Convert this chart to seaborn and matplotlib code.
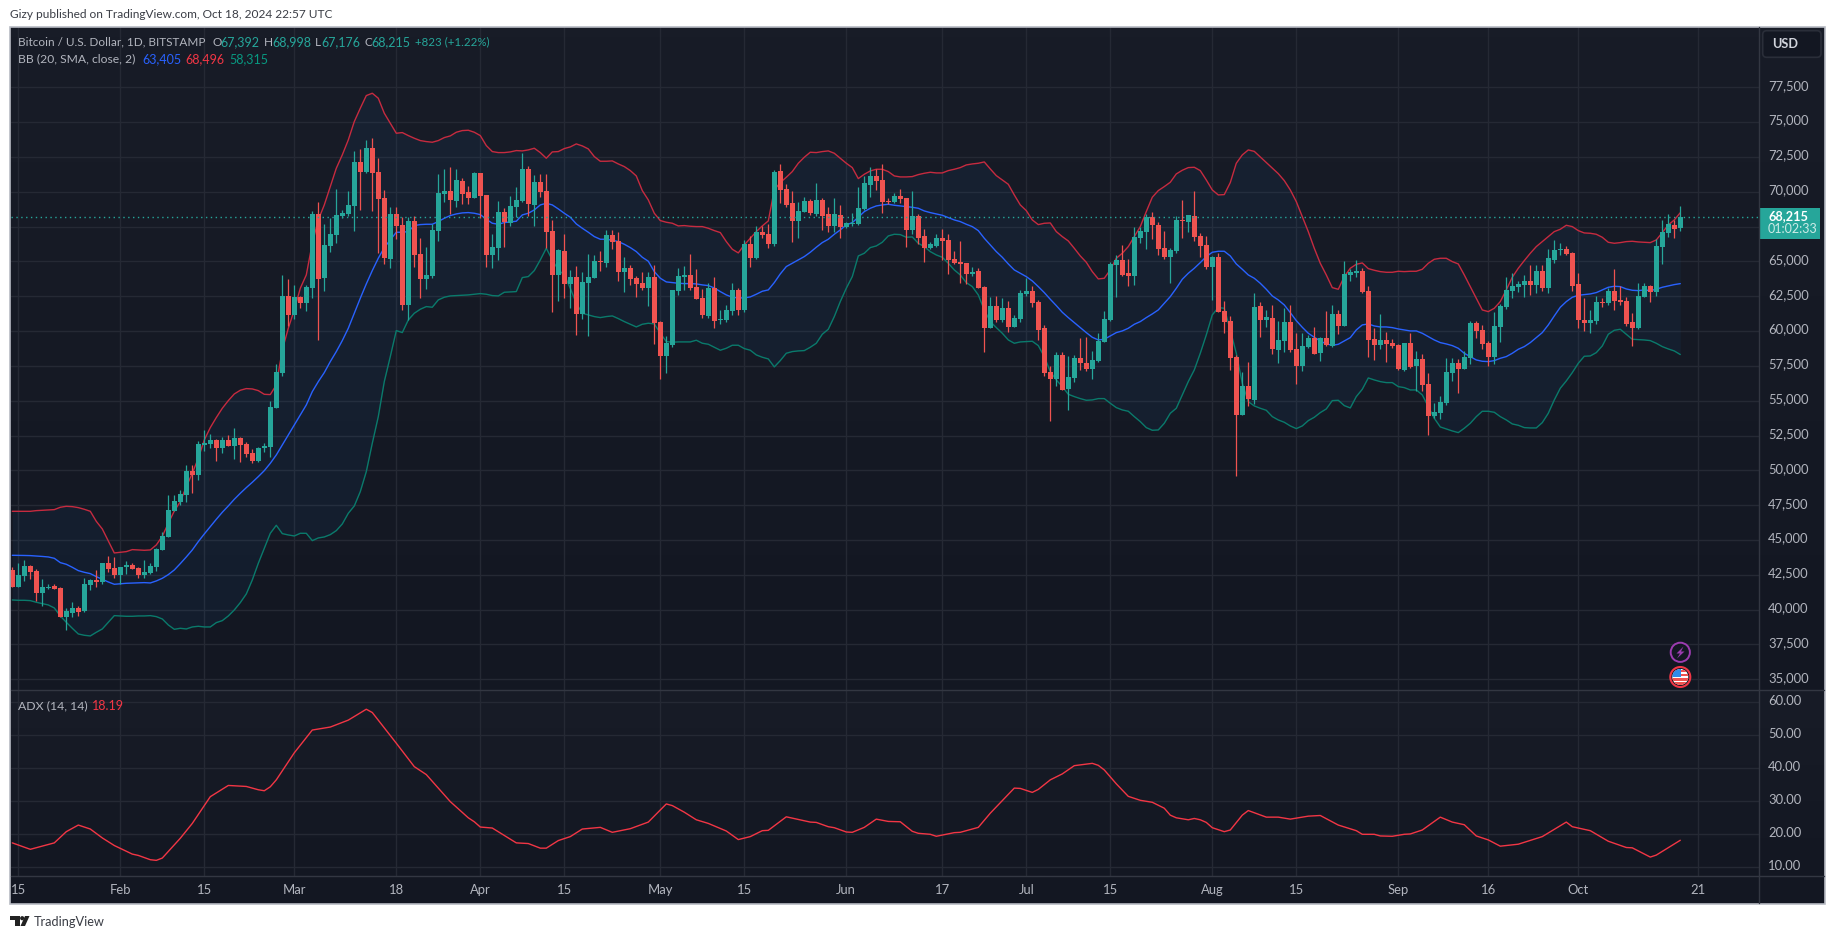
import numpy as np
import pandas as pd
import matplotlib
matplotlib.use("Agg")
import matplotlib.pyplot as plt
import matplotlib.dates as mdates
from matplotlib.patches import Rectangle, Circle, Polygon, FancyBboxPatch
from matplotlib.transforms import ScaledTranslation
import seaborn as sns

W, H = 1835, 939
FONT = "Lato"

start_date = "2024-01-14"

opens = [42850,41630,42420,43140,42780,41220,41590,41700,41560,39480,
39760,40120,39905,41770,42130,41990,43350,42990,42490,43065,
43210,42990,42490,42635,43065,44285,45220,47085,47730,48235,
49957,49670,51825,51895,52180,51610,52180,51750,52325,51895,
51250,50675,51610,51680,54480,56995,62525,61160,62450,62020,
63100,68410,63815,66115,66900,68265,68410,68985,72145,71425,
73150,71425,69560,65180,68410,67620,61880,67910,65540,63745,
63960,67190,69850,70060,69345,70780,69990,69560,71355,69775,
65465,65970,68555,67765,68915,69345,71640,69055,70705,70060,
67190,64030,65755,63385,63890,61230,63460,63815,65035,64890,
66905,66470,64245,64535,63815,63455,63100,63885,60655,58215,
59005,62885,63885,64030,63170,62380,61085,63100,60800,60800,
61445,62955,61520,66255,65250,67120,66975,66255,71495,70205,
69200,67910,68555,69345,68410,69415,68410,67550,68340,67475,
67690,67690,68770,70490,71137,70850,69342,69270,69700,69557,
67260,68265,66830,65968,66112,66686,66542,65178,64963,64891,
64101,64317,63168,60224,61804,60799,61660,60296,60870,62665,
62880,62091,60224,57066,56563,58286,55845,56635,58071,57712,
57281,57855,59219,60799,64747,65106,64173,63958,66686,67116,
68193,67619,65968,65322,65752,67978,67834,68265,66829,66183,
64603,65322,61445,60727,58143,53979,56060,55055,61803,60798,
60942,58644,59291,60654,58716,57496,58860,59506,58429,59506,
58932,61229,60367,64029,64172,64316,62880,59434,59003,59362,
59147,59003,57209,59147,57496,57999,56204,53906,54122,54840,
56993,57711,57280,58070,60583,60081,59147,58142,60296,61731,
62880,63167,63311,63598,63311,64316,63095,65105,65847,65895,
65608,63383,60798,60583,60726,62091,62019,62880,62234,62162,
60654,60224,62450,63239,62808,66039,67044,67618,67392]

closes = [41630,42490,43140,42730,41220,41630,41650,41510,39480,39905,
40120,39835,41845,42130,41990,43350,42920,42490,43065,43210,
42920,42490,42705,43140,44355,45290,47157,47800,48305,49957,
49670,51895,51970,52180,51610,52180,51750,52325,51825,51180,
50675,51610,51750,54550,57070,62525,61160,62450,62020,63170,
68410,63745,66185,66975,68340,68480,69055,72145,71425,73150,
71350,69490,65250,68410,67550,61880,67910,65465,63745,64030,
67260,69920,70060,69415,70850,69845,69560,71355,69700,65465,
66040,68555,67835,68985,69415,71640,69130,70705,69990,67120,
64030,65825,63385,63890,61230,63530,63890,65035,64965,66905,
66400,64245,64535,63745,63385,63100,63885,60585,58215,59150,
62955,63960,64030,63100,62310,61160,63100,60730,60870,61520,
62955,61520,66255,65250,67120,66905,66255,71425,70135,69055,
67910,68625,69345,68485,69415,68265,67550,68410,67475,67765,
67762,68840,70634,71137,70778,69270,69270,69700,69485,67260,
68265,66686,65968,66255,66686,66470,65106,64891,64819,64101,
64245,63096,60224,61804,60799,61660,60296,60942,62737,62880,
62019,60081,56994,56563,58286,55773,56707,58071,57712,57281,
57927,59291,60870,64819,65106,64029,63958,66757,67188,68193,
67619,65896,65322,65824,67978,67906,68337,66757,66111,64603,
65322,61373,60655,58071,53979,56060,55127,61731,60798,61014,
58716,59362,60654,58644,57496,58932,59506,58357,59506,59003,
61229,60367,64100,64244,64316,62808,59362,59003,59362,59075,
58932,57280,59147,57424,57999,56132,53906,54194,54911,57065,
57711,57280,58142,60583,60009,59075,58142,60367,61803,62952,
63239,63382,63598,63311,64316,63095,65249,65823,65895,65536,
63239,60798,60583,60798,62091,61995,62880,62162,62090,60511,
60224,62521,63239,62808,66111,67116,67690,67331,68215]

highs = [43040,43350,43570,43190,42920,42180,41840,41840,41610,40100,
40550,40265,42250,42200,42850,43350,43855,43780,43065,43470,
43350,43040,43570,43350,44430,45580,48235,48235,48590,50390,
50390,52110,52900,52610,52230,52400,52540,53045,52400,52040,
51535,51680,51965,54980,57640,64030,63745,63310,62525,63310,
68625,69270,67690,68120,70205,68700,70060,72930,73075,73720,
73865,72430,70135,68910,68910,68195,68195,68265,66690,66040,
67690,71280,71640,71785,71640,70995,70420,71425,71355,69775,
66975,69345,68840,69700,70350,72790,71855,71210,71280,71280,
67980,65900,66975,64390,64675,64245,65540,65465,65755,67260,
67260,67120,65320,64750,63960,64245,64245,64750,60730,59650,
62955,64535,64675,65540,64460,63025,63455,63885,61520,61880,
63455,63100,66545,66830,67550,67550,67690,71570,72000,70560,
70060,69270,69630,69490,70635,69560,68910,69560,69055,67835,
68480,70350,71137,71783,71640,72000,69557,69916,70203,69557,
70060,68409,67332,66398,66973,67332,66973,65752,66470,64891,
64603,64532,63240,62450,62522,62378,62163,61158,62952,63814,
63240,62235,60440,57496,58501,58501,58214,58286,59507,59578,
58574,59865,61445,64963,65465,66183,65178,67476,67476,68409,
68552,67834,67188,65968,68265,69414,68337,70060,67044,66829,
65394,65609,62163,61086,58286,57066,57783,62736,62090,61516,
61875,60726,61660,61875,59865,59841,59721,60296,59578,61444,
61875,61516,65034,64459,65106,64531,63239,60224,61229,59937,
59410,59075,59147,59865,58573,58357,57000,54840,55342,58070,
58070,57998,58573,60726,60726,60440,59291,61373,61947,63885,
64172,63598,64029,64747,64747,64747,65895,66541,66326,66110,
65680,64172,62378,61516,62521,62378,63095,64459,63239,62450,
61301,63455,63455,63311,66637,67977,68408,67977,68998]

lows = [41630,41630,42085,42200,40625,40265,41460,41460,39450,38540,
39480,39550,39860,41415,41630,41845,42730,42275,41845,42560,
42920,42275,42275,42560,42780,44285,45220,47085,47515,47730,
48380,49310,51390,51610,50675,51250,51750,50820,50600,50960,
50530,50600,51320,50960,54480,56780,60370,60870,61660,61445,
62380,59365,62880,65680,66330,68120,68265,67190,68700,71350,
68625,65610,64820,64535,66615,61520,60800,64605,62380,63025,
63815,66470,69270,68410,68910,69130,69130,69560,68120,64605,
64535,65105,66040,67550,68195,69270,68265,67550,69630,65945,
61375,62165,62355,61640,59725,60870,59650,63815,64320,64605,
65895,63600,62810,63315,62450,62955,61805,59085,56565,56995,
58860,62595,62955,62955,62310,60945,60945,60225,60515,60655,
61160,61160,61375,64605,65180,66690,65970,66115,69200,68915,
66400,66690,68555,68340,68265,67260,67120,67120,66690,67405,
67545,67620,68670,69629,70132,68480,69127,69200,69200,66040,
66973,66255,64963,65896,66040,65106,64101,64819,63455,63383,
63958,63096,58502,60224,60655,60655,59937,60296,60655,62522,
61732,59363,56779,53548,56060,55773,54338,56348,57209,57137,
56563,57783,59219,60727,62450,63958,63240,63312,66327,65896,
66614,65465,65178,63455,65609,66686,67116,66470,65321,64460,
62234,61373,59865,57209,49600,53979,54624,54768,59578,60296,
58357,57711,58501,58501,56203,57137,58788,58357,57855,58932,
58860,59793,60367,63598,63885,62736,58142,57926,58716,57783,
58788,57233,57137,57352,55701,55701,52542,53763,53691,54696,
56419,55557,57280,57639,59506,58717,57496,57639,59219,61588,
62378,62808,62450,62593,62737,62880,62737,64890,65465,65465,
62880,60224,60009,59865,60511,61731,61875,61516,61875,60367,
58932,60152,62450,62091,62521,64819,66757,66685,67176]

bb_upper = [47060,47060,47060,47060,47109,47133,47157,47181,47349,47420,
47396,47325,47205,47061,46340,45793,44932,44070,44118,44166,
44310,44286,44262,44286,44645,45270,46200,47085,47755,48830,
49790,50870,52180,53070,53790,54455,55005,55485,55750,55870,
55845,55725,55460,55440,56130,58646,60200,61519,63073,64030,
66304,67980,69056,70372,71688,72646,73722,75039,75996,76905,
77073,76714,75637,74919,74201,74249,74034,73842,73675,73603,
73555,73675,73890,74010,74273,74393,74417,74273,74034,73316,
72885,72813,72813,72861,72957,72933,73005,73124,72813,72406,
72861,72885,73100,73220,73435,73292,73076,72526,72191,72191,
72215,71999,71808,71521,71138,70085,69415,68458,67931,67812,
67740,67548,67572,67525,67500,67500,67381,67213,67070,66424,
65873,65610,66184,66663,67141,67548,67907,70133,70659,71042,
71449,72047,72478,72837,72813,72885,72933,72765,72406,72047,
71735,70945,71256,71496,71615,71615,71448,71137,71065,71065,
71089,71232,71328,71400,71352,71352,71519,71615,71735,71926,
71998,72046,72142,71639,71160,70849,70538,69772,69055,68648,
67978,67643,67738,67762,67140,66781,66470,65943,65393,64939,
64269,63742,63790,64388,65226,65585,66063,66781,67499,68576,
69605,70084,70371,70682,71280,71543,71735,71759,71519,70849,
70132,69772,69796,70658,72046,72644,73003,72900,72500,72100,
71700,71300,70800,70131,69293,68217,67140,65943,64866,64029,
63119,62999,63909,64507,64794,64890,64483,64364,64268,64220,
64220,64292,64268,64292,64292,64436,64866,65153,65225,65225,
64986,64818,64029,63191,62353,61516,61396,61636,62115,62952,
63861,64507,65058,65584,66063,66422,66781,67140,67307,67594,
67499,67211,67044,67020,66948,66733,66374,66302,66350,66422,
66446,66398,66374,66350,66541,67068,67618,67977,68496]

bb_mid = [43903,43900,43890,43879,43850,43820,43783,43687,43376,43256,
43041,42802,42682,42587,42371,42180,41988,41821,41860,41893,
41910,41930,41940,41916,42060,42251,42515,42850,43305,43783,
44286,44884,45434,45961,46487,46990,47445,47923,48354,48760,
49143,49550,49981,50507,51106,51824,52542,53259,53977,54695,
55653,56370,57020,57808,58527,59316,60201,61279,62356,63385,
64342,65227,65993,66543,67094,67094,67142,67572,67644,67668,
67668,67860,68099,68290,68410,68482,68506,68458,68362,68027,
67740,67668,67788,67836,67884,68338,68458,68697,69056,69176,
69056,68769,68458,68171,67692,67381,67094,66783,66591,66591,
66520,66424,66232,65993,65706,65299,65012,64270,63792,63528,
63480,63432,63408,63408,63385,63313,63265,63097,62834,62595,
62427,62380,62380,62451,62643,62858,62954,63480,64102,64629,
64868,65108,65347,65658,66017,66352,66591,66950,67261,67620,
67786,68169,68576,68815,68983,69055,69103,69031,68983,68935,
68887,68815,68624,68504,68409,68313,68145,67978,67858,67667,
67499,67212,66662,66183,65704,65298,64819,64388,64149,63910,
63598,63192,62761,62282,61828,61349,60966,60607,60248,59889,
59554,59363,59411,59650,59889,60009,60200,60487,60679,60966,
61229,61517,61995,62474,63072,63718,64149,64508,64915,65345,
65657,65729,65729,65393,64818,64436,64029,63790,63430,63000,
62521,62234,61875,61325,60750,60272,59841,59554,59291,59075,
58979,59051,59291,59530,60080,60440,60511,60367,60296,60296,
60248,60152,60080,60009,60009,59841,59602,59362,59171,59075,
58956,58764,58405,58166,57926,57831,57807,57879,58046,58166,
58405,58692,58884,59171,59530,59889,60440,61085,61708,62114,
62426,62569,62617,62665,62761,62952,63143,63215,63191,63024,
62928,62904,62952,62904,63000,63143,63239,63335,63405]

bb_lower = [40696,40672,40672,40648,40529,40433,40337,40122,39548,39093,
38662,38255,38160,38112,38375,38614,39093,39571,39548,39524,
39524,39548,39548,39571,39500,39332,38901,38590,38662,38614,
38758,38806,38758,38758,39069,39212,39548,39978,40505,41127,
42132,43326,44405,45482,46056,45458,45362,45291,45482,45482,
44956,45147,45219,45386,45674,46152,46918,47444,48473,49909,
51944,53858,56373,58168,60034,59890,60800,61279,61566,61757,
61710,62236,62428,62523,62547,62571,62595,62643,62690,62643,
62547,62523,62786,62810,62834,63839,63911,64342,65108,65945,
65108,64390,64031,63073,61996,61279,61159,61039,60967,61039,
61087,60896,60680,60489,60297,60489,60561,60513,59843,59245,
59197,59221,59221,59221,59341,59125,59053,58838,58623,58766,
58982,58982,58742,58623,58287,58120,58000,57425,57881,58407,
58527,58575,58598,58838,59125,59771,60130,61039,62117,63073,
63910,65393,65585,65992,66111,66375,66829,66949,66925,66733,
66757,66302,66063,65704,65465,65297,64867,64388,64029,63479,
63192,62594,61517,60679,60248,59842,59363,59124,59220,59244,
59267,58956,58166,57090,56491,56013,55462,55295,55151,55032,
55056,55151,55151,54816,54505,54338,54242,53859,53500,53069,
52878,52902,53380,54098,54457,55414,56372,57209,58406,59722,
61158,61684,61636,60081,58406,56252,54935,54624,54456,54313,
53858,53619,53452,53189,52997,53189,53571,53811,54146,54409,
55007,55031,54648,54481,55295,55821,56634,56491,56371,56299,
56299,56012,55940,55773,55773,55414,54576,53739,53117,52973,
52829,52710,53021,53380,53858,54241,54241,54170,53858,53619,
53332,53236,53069,53045,53045,53428,54098,55055,55893,56419,
57017,57687,58190,58214,58453,58932,59769,60056,60128,59769,
59410,59386,59362,59315,59123,58884,58716,58573,58315]

adx_days = [0,3,7,9,11,13,15,17,20,21,23,24,25,28,30,33,36,39,41,42,43,44,47,50,53,56,59,60,64,67,
69,73,76,77,78,80,84,86,88,89,91,93,95,98,100,103,106,109,110,112,114,116,119,121,123,125,126,129,131,133,
134,136,137,139,140,142,144,146,148,150,151,153,154,157,158,161,163,167,168,170,171,173,175,177,180,181,182,184,186,188,
190,192,193,194,196,197,198,199,200,202,203,205,206,209,211,213,216,218,221,224,225,227,228,230,232,233,235,238,240,242,
244,246,248,251,255,259,260,263,266,269,270,273,274,278]
adx_vals = [17.4,15.45,17.4,20.8,22.8,21.6,18.9,16.6,14.0,13.6,12.3,12.1,12.8,18.8,23.3,31.4,34.8,34.5,33.5,33.2,34.4,36.5,44.7,51.6,52.5,54.6,57.9,56.9,47.6,40.5,
38.1,29.9,25.0,23.8,22.2,21.9,17.4,17.2,15.8,15.8,18.1,19.3,21.6,22.1,20.6,21.7,23.7,29.2,28.7,26.7,24.4,23.3,21.0,18.4,19.3,21.1,21.2,25.3,24.5,23.7,
23.6,22.3,22.0,20.7,20.6,22.1,24.6,23.9,23.8,20.9,20.3,20.0,19.4,20.5,20.6,22.1,26.4,34.0,33.9,32.7,33.6,36.5,38.3,40.8,41.5,40.9,39.5,35.3,31.5,30.3,
29.7,27.9,25.8,25.0,24.4,24.8,24.4,23.6,22.0,20.8,21.3,25.8,27.2,25.2,25.2,24.6,25.5,25.7,22.8,21.1,20.0,20.0,19.5,19.4,20.0,20.1,21.3,25.2,23.7,22.9,
19.5,18.3,16.4,17.0,19.3,23.7,22.3,21.1,17.9,16.0,15.9,13.1,13.7,18.19]

price_ticks = list(range(35000, 80000, 2500))
adx_ticks = [10, 20, 30, 40, 50, 60]
time_ticks = ["2024-01-15","2024-02-01","2024-02-15","2024-03-01","2024-03-18","2024-04-01","2024-04-15",
              "2024-05-01","2024-05-15","2024-06-01","2024-06-17","2024-07-01","2024-07-15","2024-08-01",
              "2024-08-15","2024-09-01","2024-09-16","2024-10-01","2024-10-21"]
time_labels = ["15","Feb","15","Mar","18","Apr","15","May","15","Jun","17","Jul","15","Aug","15","Sep","16","Oct","21"]

UP = "#26A69A"
DOWN = "#EF5350"
TXT = "#B2B5BE"
GRID = "#252934"
SEP = "#333742"
TOPC = np.array([24, 28, 39]) / 255
BOTC = np.array([19, 23, 34]) / 255

dates = pd.date_range(start_date, periods=len(closes), freq="D")
df = pd.DataFrame({"x": mdates.date2num(dates), "open": opens, "high": highs, "low": lows, "close": closes,
                   "upper": bb_upper, "mid": bb_mid, "lower": bb_lower})
adx_df = pd.DataFrame({"x": df["x"].iloc[0] + np.array(adx_days), "adx": adx_vals})
up = df["close"] >= df["open"]
df["color"] = np.where(up, UP, DOWN)

sns.set_style("dark")
plt.rcParams["font.family"] = [FONT, "DejaVu Sans"]

fig = plt.figure(figsize=(W / 100, H / 100), dpi=100, facecolor="white")


def pane(x0, y0, x1, y1, **kw):
    return fig.add_axes([x0 / W, 1 - y1 / H, (x1 - x0) / W, (y1 - y0) / H], **kw)


# pane backgrounds, they run under the price scale too
grad = np.linspace(0, 1, 64)[:, None, None] * (BOTC - TOPC) + TOPC
for y0, y1 in [(27, 690), (690, 876)]:
    bg = pane(10, y0, 1824.5, y1, zorder=0)
    bg.imshow(grad, aspect="auto")
    bg.axis("off")
bg3 = pane(10, 876, 1824.5, 903.5, zorder=0)
bg3.set_facecolor("#131722")
bg3.set_xticks([])
bg3.set_yticks([])
for s in bg3.spines.values():
    s.set_visible(False)

ax = pane(10.5, 27, 1759, 690, zorder=2)
ax2 = pane(10.5, 690, 1759, 876, zorder=2)
x0 = df["x"].iloc[0]
xlim = (x0 - 0.3, x0 + 291.12)
tick_x = mdates.date2num(pd.to_datetime(time_ticks))

for a in (ax, ax2):
    a.patch.set_alpha(0)
    for s in a.spines.values():
        s.set_visible(False)
    a.set_axisbelow(True)
    a.grid(True, color=GRID, lw=1)
    a.yaxis.tick_right()
    a.set_xticks(tick_x)
    a.tick_params(length=0, colors=TXT, labelsize=9.4, pad=6.6)

# bollinger band
ax.fill_between(df["x"], df["upper"], df["lower"], color="#2196F3", alpha=0.055, lw=0, zorder=1)
sns.lineplot(data=df, x="x", y="upper", ax=ax, color="#C62B40", lw=1.0, errorbar=None, zorder=2)
sns.lineplot(data=df, x="x", y="lower", ax=ax, color="#0A7A6B", lw=1.0, errorbar=None, zorder=2)
sns.lineplot(data=df, x="x", y="mid", ax=ax, color="#2962FF", lw=1.0, errorbar=None, zorder=2)

# candles
ax.vlines(df["x"], df["low"], df["high"], colors=df["color"], lw=0.9, zorder=3)
ax.bar(df["x"], (df["close"] - df["open"]).abs().clip(lower=72), bottom=df[["open", "close"]].min(axis=1),
       width=5 / 6, color=df["color"], lw=0, zorder=4)
ax.axhline(closes[-1], color=UP, lw=1, ls=(0, (1, 2.5)), zorder=5)

ax.set_xlim(xlim)
ax.set_ylim(35000 - 10.7 * 71.79, 35000 + 652.3 * 71.79)
ax.set_yticks(price_ticks)
# 67,500 sits under the last price tag
ax.set_yticklabels(["" if v == 67500 else f"{v:,}" for v in price_ticks])
ax.set_xticklabels([])
ax.set_xlabel("")
ax.set_ylabel("")

sns.lineplot(data=adx_df, x="x", y="adx", ax=ax2, color="#F23645", lw=1.0, errorbar=None)
ax2.set_xlim(xlim)
ax2.set_ylim(60 - (876 - 702.3) / 3.3, 60 + 12.3 / 3.3)
ax2.set_yticks(adx_ticks)
ax2.set_yticklabels([f"{v:.2f}" for v in adx_ticks])
ax2.set_xticklabels(time_labels)
ax2.tick_params(axis="x", pad=5.5)
ax2.set_xlabel("")
ax2.set_ylabel("")

# price scale labels sit a little above their grid lines
lift = ScaledTranslation(0, 2.5 / 100, fig.dpi_scale_trans)
for a in (ax, ax2):
    for t in a.get_yticklabels():
        t.set_transform(t.get_transform() + lift)

# overlay in pixels for the chrome around the chart
ov = fig.add_axes([0, 0, 1, 1], zorder=5)
ov.set_xlim(0, W)
ov.set_ylim(H, 0)
ov.axis("off")
ov.patch.set_alpha(0)

ov.add_patch(Rectangle((10, 27), 1814.5, 876.5, fill=False, ec="#B8BBC4", lw=1.2))
ov.plot([1759, 1759], [27, 903], color=SEP, lw=1)
ov.plot([10.5, 1824], [690, 690], color=SEP, lw=1)
ov.plot([10.5, 1824], [876, 876], color=SEP, lw=1)


def label(x, y, s, color=TXT, size=8.5, **kw):
    ov.text(x, y, s, color=color, fontsize=size, va="center", ha="left", **kw)


label(10, 14.7, "Gizy published on TradingView.com, Oct 18, 2024 22:57 UTC", color="#3A3D45", size=8.6)

label(18, 42, "Bitcoin / U.S. Dollar, 1D, BITSTAMP")
for xl, l, xv, v in [(212.6, "O", 220.5, "67,392"), (263.6, "H", 272, "68,998"),
                     (315, "L", 321, "67,176"), (364, "C", 371.5, "68,215")]:
    label(xl, 42, l)
    label(xv, 42, v, color=UP, size=9.0)
label(414.6, 42, "+823 (+1.22%)", color=UP, size=8.3)

label(18, 59, "BB (20, SMA, close, 2)", size=8.7)
label(142.7, 59, "63,405", color="#2962FF", size=9.0)
label(185.8, 59, "68,496", color="#F23645", size=9.0)
label(229, 59, "58,315", color="#089981", size=9.0)

label(18, 705.7, "ADX (14, 14)", size=8.85)
label(92.3, 705.7, "18.19", color="#F23645", size=9.0)

# USD button and last price tag
ov.add_patch(FancyBboxPatch((1765.7, 33.7), 52.3, 20.6, boxstyle="round,pad=3,rounding_size=4",
                            fc="#131722", ec="#2A2E39", lw=1.2))
label(1771.7, 44.3, "USD", color="#D1D4DC", size=9.2, fontweight="bold")
ov.add_patch(Rectangle((1760, 208), 60, 31, fc=UP, ec="none"))
label(1768, 215.7, "68,215", color="white", size=9.2, fontweight="bold")
label(1768, 229.3, "01:02:33", color="#CDEBE7", size=9.0)

# event icons
ov.add_patch(Circle((1680.3, 652.3), 9.6, fc="#131722", ec="#9C3CB0", lw=1.4))
ov.add_patch(Polygon([(1683.5, 646.5), (1676.5, 653.5), (1680, 653.5), (1677, 658.5), (1684.5, 651.5), (1681, 651.5)],
                     fc="#9C3CB0", ec="none"))
ov.add_patch(Circle((1680.3, 677), 10, fc="#131722", ec="#F23645", lw=1.5))
disc = Circle((1680.3, 677), 8, fc="white", ec="none")
ov.add_patch(disc)
for yy in [670, 674.2, 678.4, 682.4]:
    r = ov.add_patch(Rectangle((1671, yy), 19, 2.1, fc="#EF5350", ec="none"))
    r.set_clip_path(disc)
r = ov.add_patch(Rectangle((1671, 668), 9.5, 8.5, fc="#2F8BEA", ec="none"))
r.set_clip_path(disc)

# footer logo
ov.add_patch(Polygon([(10, 916), (19.5, 916), (19.5, 926), (14.5, 926), (14.5, 920.3), (10, 920.3)], fc="#222222", ec="none"))
ov.add_patch(Circle((22.2, 918.2), 2.1, fc="#222222", ec="none"))
ov.add_patch(Polygon([(25, 916), (29.5, 916), (25, 926), (20.5, 926)], fc="#222222", ec="none"))
label(33.3, 921.7, "TradingView", color="#3A3D45", size=9.2)

fig.savefig("out.png", dpi=100, facecolor="white")
